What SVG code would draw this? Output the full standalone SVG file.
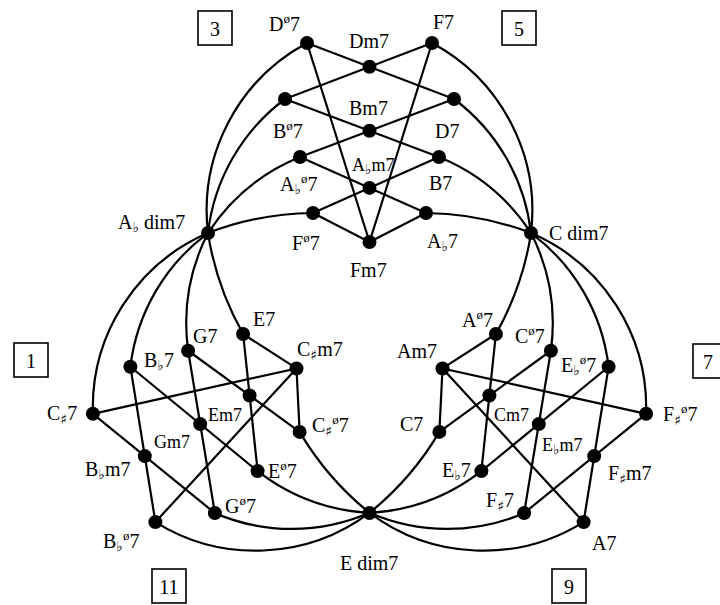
<svg xmlns="http://www.w3.org/2000/svg" width="720" height="605" viewBox="0 0 720 605">
<style>
.e path{fill:none;stroke:#000;stroke-width:2.2}
circle{fill:#000}
text{font-family:'Liberation Serif','Times New Roman',serif;font-size:20px;fill:#000}
.s{font-size:18px}
.a{font-family:'DejaVu Sans',sans-serif;font-size:14px}
.p{font-size:13px}
.box{fill:none;stroke:#000;stroke-width:1.6}
</style>
<rect width="720" height="605" fill="#fff"/>
<g id="connectors" class="e">
<g id="conn-top">
<path d="M307,43L454,99"/><path d="M432,43L285,99"/><path d="M285,99L439,157"/><path d="M454,99L300,157"/><path d="M300,157L426,213"/><path d="M439,157L313,213"/><path d="M313,213L369.5,242"/><path d="M426,213L369.5,242"/><path d="M307,43L369.5,242"/><path d="M432,43L369.5,242"/>
<path d="M307,43A190,190 0 0 0 208,233"/><path d="M285,99A195,195 0 0 0 208,233"/><path d="M300,157A200,200 0 0 0 208,233"/><path d="M313,213A300,300 0 0 0 208,233"/>
<path d="M432,43A190,190 0 0 1 531,233"/><path d="M454,99A195,195 0 0 1 531,233"/><path d="M439,157A200,200 0 0 1 531,233"/><path d="M426,213A300,300 0 0 1 531,233"/>
</g>
<g id="conn-left" transform="rotate(-120 369.5 326.3)">
<path d="M307,43L454,99"/><path d="M432,43L285,99"/><path d="M285,99L439,157"/><path d="M454,99L300,157"/><path d="M300,157L426,213"/><path d="M439,157L313,213"/><path d="M313,213L369.5,242"/><path d="M426,213L369.5,242"/><path d="M307,43L369.5,242"/><path d="M432,43L369.5,242"/>
<path d="M307,43A190,190 0 0 0 208,233"/><path d="M285,99A195,195 0 0 0 208,233"/><path d="M300,157A200,200 0 0 0 208,233"/><path d="M313,213A300,300 0 0 0 208,233"/>
<path d="M432,43A190,190 0 0 1 531,233"/><path d="M454,99A195,195 0 0 1 531,233"/><path d="M439,157A200,200 0 0 1 531,233"/><path d="M426,213A300,300 0 0 1 531,233"/>
</g>
<g id="conn-right" transform="rotate(120 369.5 326.3)">
<path d="M307,43L454,99"/><path d="M432,43L285,99"/><path d="M285,99L439,157"/><path d="M454,99L300,157"/><path d="M300,157L426,213"/><path d="M439,157L313,213"/><path d="M313,213L369.5,242"/><path d="M426,213L369.5,242"/><path d="M307,43L369.5,242"/><path d="M432,43L369.5,242"/>
<path d="M307,43A190,190 0 0 0 208,233"/><path d="M285,99A195,195 0 0 0 208,233"/><path d="M300,157A200,200 0 0 0 208,233"/><path d="M313,213A300,300 0 0 0 208,233"/>
<path d="M432,43A190,190 0 0 1 531,233"/><path d="M454,99A195,195 0 0 1 531,233"/><path d="M439,157A200,200 0 0 1 531,233"/><path d="M426,213A300,300 0 0 1 531,233"/>
</g>
</g>
<g id="hubs">
<g id="n-Abdim7"><circle cx="208" cy="233" r="7"/><text x="118" y="229">A<tspan class="a" dy="3">♭</tspan><tspan dy="-3"> dim7</tspan></text></g>
<g id="n-Cdim7"><circle cx="531" cy="233" r="7"/><text x="549" y="240">C dim7</text></g>
<g id="n-Edim7"><circle cx="369.5" cy="513" r="7"/><text x="340" y="570">E dim7</text></g>
</g>
<g id="top-cluster">
<g id="n-Dhd7"><circle cx="307" cy="43" r="7"/><text x="269" y="31">D<tspan class="p" dy="-8">ø</tspan><tspan dy="8">7</tspan></text></g>
<g id="n-F7"><circle cx="432" cy="43" r="7"/><text x="433" y="29">F7</text></g>
<g id="n-Dm7"><circle cx="369.5" cy="66.8" r="7"/><text x="349" y="48">Dm7</text></g>
<g id="n-Bhd7"><circle cx="285" cy="99" r="7"/><text x="273" y="138">B<tspan class="p" dy="-8">ø</tspan><tspan dy="8">7</tspan></text></g>
<g id="n-D7"><circle cx="454" cy="99" r="7"/><text x="435" y="138">D7</text></g>
<g id="n-Bm7"><circle cx="369.5" cy="130.8" r="7"/><text x="349" y="115">Bm7</text></g>
<g id="n-Abhd7"><circle cx="300" cy="157" r="7"/><text x="280" y="191">A<tspan class="a" dy="3">♭</tspan><tspan class="p" dy="-11">ø</tspan><tspan dy="8">7</tspan></text></g>
<g id="n-B7"><circle cx="439" cy="157" r="7"/><text x="429" y="190">B7</text></g>
<g id="n-Abm7"><circle cx="369.5" cy="187.9" r="7"/><text class="s" x="352" y="171">A<tspan class="a" dy="3">♭</tspan><tspan dy="-3">m7</tspan></text></g>
<g id="n-Fhd7"><circle cx="313" cy="213" r="7"/><text x="292" y="250">F<tspan class="p" dy="-8">ø</tspan><tspan dy="8">7</tspan></text></g>
<g id="n-Ab7"><circle cx="426" cy="213" r="7"/><text x="427" y="248">A<tspan class="a" dy="3">♭</tspan><tspan dy="-3">7</tspan></text></g>
<g id="n-Fm7"><circle cx="369.5" cy="242" r="7"/><text x="350" y="277">Fm7</text></g>
</g>
<g id="left-cluster">
<g id="n-Bbhd7"><circle cx="155.4" cy="522.1" r="7"/><text x="103" y="548">B<tspan class="a" dy="3">♭</tspan><tspan class="p" dy="-11">ø</tspan><tspan dy="8">7</tspan></text></g>
<g id="n-Cs7"><circle cx="92.9" cy="413.8" r="7"/><text x="47" y="420">C<tspan class="a" dy="4">♯</tspan><tspan dy="-4">7</tspan></text></g>
<g id="n-Bbm7"><circle cx="144.8" cy="456.1" r="7"/><text x="85" y="476">B<tspan class="a" dy="3">♭</tspan><tspan dy="-3">m7</tspan></text></g>
<g id="n-Ghd7"><circle cx="214.9" cy="513.1" r="7"/><text x="225" y="513">G<tspan class="p" dy="-8">ø</tspan><tspan dy="8">7</tspan></text></g>
<g id="n-Bb7"><circle cx="130.4" cy="366.8" r="7"/><text x="144" y="367">B<tspan class="a" dy="3">♭</tspan><tspan dy="-3">7</tspan></text></g>
<g id="n-Gm7"><circle cx="200.2" cy="424.1" r="7"/><text class="s" x="154" y="448">Gm7</text></g>
<g id="n-Ehd7"><circle cx="257.6" cy="471.1" r="7"/><text x="268" y="478">E<tspan class="p" dy="-8">ø</tspan><tspan dy="8">7</tspan></text></g>
<g id="n-G7"><circle cx="188.1" cy="350.8" r="7"/><text x="193" y="343">G7</text></g>
<g id="n-Em7"><circle cx="249.6" cy="395.5" r="7"/><text class="s" x="208" y="421">Em7</text></g>
<g id="n-Cshd7"><circle cx="299.6" cy="431.9" r="7"/><text x="312" y="432">C<tspan class="a" dy="4">♯</tspan><tspan class="p" dy="-12">ø</tspan><tspan dy="8">7</tspan></text></g>
<g id="n-E7"><circle cx="243.1" cy="334" r="7"/><text x="253" y="326">E7</text></g>
<g id="n-Csm7"><circle cx="296.5" cy="368.5" r="7"/><text x="297" y="356">C<tspan class="a" dy="4">♯</tspan><tspan dy="-4">m7</tspan></text></g>
</g>
<g id="right-cluster">
<g id="n-Fshd7"><circle cx="646.1" cy="413.8" r="7"/><text x="663" y="421">F<tspan class="a" dy="4">♯</tspan><tspan class="p" dy="-12">ø</tspan><tspan dy="8">7</tspan></text></g>
<g id="n-A7"><circle cx="583.6" cy="522.1" r="7"/><text x="592" y="550">A7</text></g>
<g id="n-Fsm7"><circle cx="594.2" cy="456.1" r="7"/><text x="608" y="480">F<tspan class="a" dy="4">♯</tspan><tspan dy="-4">m7</tspan></text></g>
<g id="n-Ebhd7"><circle cx="608.6" cy="366.8" r="7"/><text x="561" y="372">E<tspan class="a" dy="3">♭</tspan><tspan class="p" dy="-11">ø</tspan><tspan dy="8">7</tspan></text></g>
<g id="n-Fs7"><circle cx="524.1" cy="513.1" r="7"/><text x="486" y="507">F<tspan class="a" dy="4">♯</tspan><tspan dy="-4">7</tspan></text></g>
<g id="n-Ebm7"><circle cx="538.8" cy="424.1" r="7"/><text class="s" x="542" y="451">E<tspan class="a" dy="3">♭</tspan><tspan dy="-3">m7</tspan></text></g>
<g id="n-Chd7"><circle cx="550.9" cy="350.8" r="7"/><text x="515" y="343">C<tspan class="p" dy="-8">ø</tspan><tspan dy="8">7</tspan></text></g>
<g id="n-Eb7"><circle cx="481.4" cy="471.1" r="7"/><text x="442" y="477">E<tspan class="a" dy="3">♭</tspan><tspan dy="-3">7</tspan></text></g>
<g id="n-Cm7"><circle cx="489.4" cy="395.5" r="7"/><text class="s" x="494" y="421">Cm7</text></g>
<g id="n-Ahd7"><circle cx="495.9" cy="334" r="7"/><text x="462" y="327">A<tspan class="p" dy="-8">ø</tspan><tspan dy="8">7</tspan></text></g>
<g id="n-C7"><circle cx="439.4" cy="431.9" r="7"/><text x="400" y="431">C7</text></g>
<g id="n-Am7"><circle cx="442.5" cy="368.5" r="7"/><text x="397" y="358">Am7</text></g>
</g>
<g id="boxes">
<g id="box-3"><rect class="box" x="198" y="11" width="34" height="34"/><text x="215" y="36" text-anchor="middle">3</text></g>
<g id="box-5"><rect class="box" x="502" y="11" width="34" height="34"/><text x="519" y="36" text-anchor="middle">5</text></g>
<g id="box-1"><rect class="box" x="14" y="343" width="34" height="34"/><text x="31" y="368" text-anchor="middle">1</text></g>
<g id="box-7"><rect class="box" x="693" y="344" width="34" height="34"/><text x="708" y="369" text-anchor="middle">7</text></g>
<g id="box-11"><rect class="box" x="152" y="569" width="34" height="34"/><text x="169" y="594" text-anchor="middle">11</text></g>
<g id="box-9"><rect class="box" x="552" y="569" width="34" height="34"/><text x="569" y="594" text-anchor="middle">9</text></g>
</g>
</svg>
